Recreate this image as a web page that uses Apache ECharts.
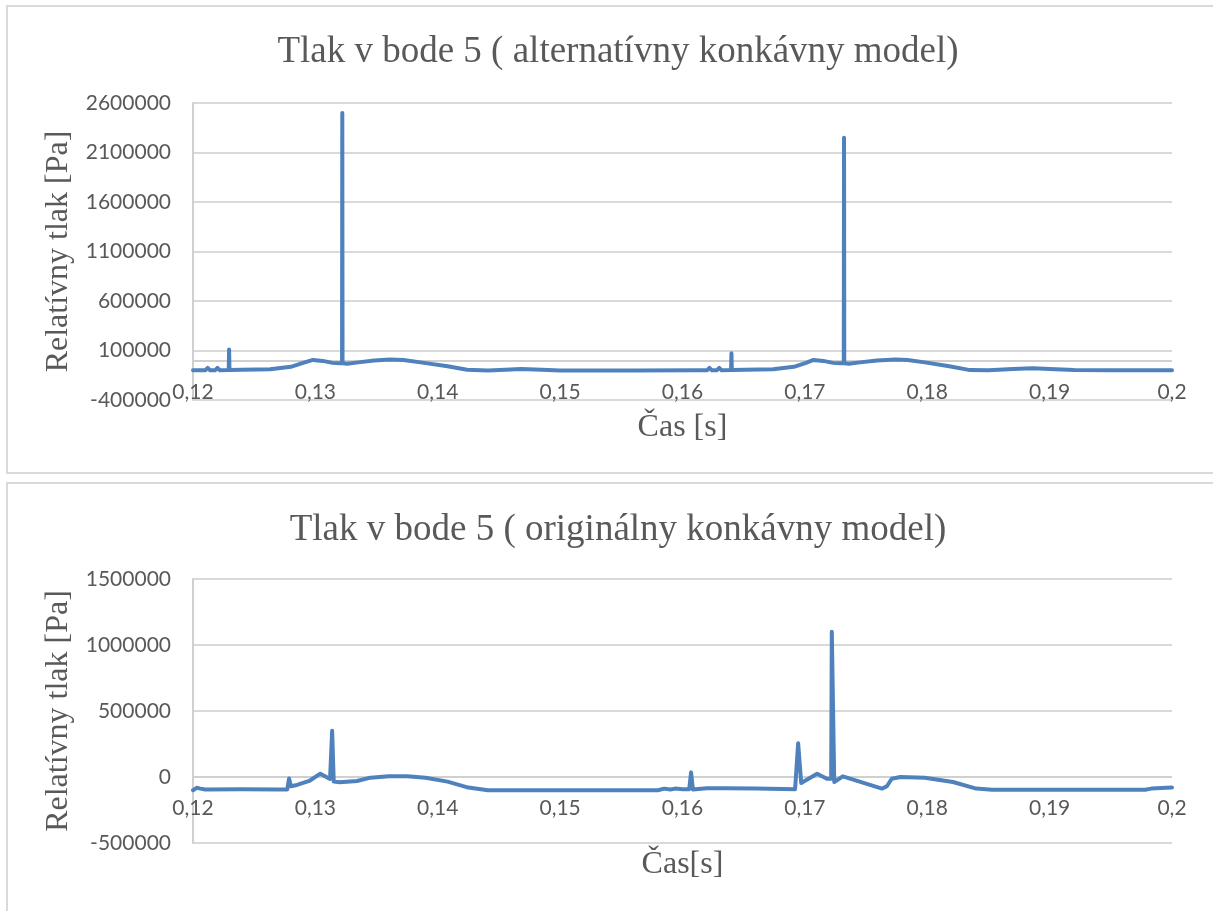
<!DOCTYPE html>
<html>
<head>
<meta charset="utf-8">
<script src="https://cdn.jsdelivr.net/npm/echarts@6/dist/echarts.min.js"></script>
<style>
  html, body { margin: 0; padding: 0; background: #fff; }
  #chart { width: 1213px; height: 911px; }
</style>
</head>
<body>
<div id="chart"></div>
<script>
// top chart: alternative model
var timeA = [0.1200, 0.1210, 0.1212, 0.1214, 0.1218, 0.1220, 0.1222, 0.12292, 0.12295, 0.12298,
  0.1240, 0.1263, 0.1280, 0.1290, 0.1298, 0.1306, 0.1314, 0.1320, 0.13218, 0.1322, 0.13222,
  0.1326, 0.1335, 0.1348, 0.1361, 0.1372, 0.1386, 0.1408, 0.1424, 0.1441, 0.1455, 0.1468,
  0.1485, 0.1500, 0.1560, 0.1610, 0.1620, 0.1622, 0.1624, 0.1628, 0.1630, 0.1632, 0.16397,
  0.1640, 0.16403, 0.1651, 0.1674, 0.1691, 0.1701, 0.1707, 0.1715, 0.1723, 0.1729, 0.17318,
  0.1732, 0.17322, 0.1736, 0.1745, 0.1759, 0.1774, 0.1784, 0.1798, 0.1818, 0.1835, 0.1850,
  0.1870, 0.1886, 0.1900, 0.1920, 0.1950, 0.2000];
var pressA = [-100000, -100000, -75000, -100000, -100000, -75000, -100000, -98000, 110000, -96000,
  -95000, -90000, -65000, -25000, 5000, -5000, -25000, -28000, -28000, 2500000, -30000,
  -33000, -20000, 0, 8000, 3000, -20000, -60000, -95000, -102000, -95000, -88000,
  -95000, -102000, -102000, -100000, -100000, -75000, -100000, -100000, -75000, -100000, -98000,
  73000, -96000, -95000, -90000, -65000, -25000, 5000, -5000, -25000, -28000, -28000,
  2250000, -30000, -33000, -20000, 0, 8000, 3000, -20000, -60000, -98000, -100000,
  -88000, -80000, -88000, -98000, -100000, -100000];

// bottom chart: original model
var timeB = [0.1200, 0.1203, 0.1204, 0.1206, 0.1210, 0.1240, 0.1270, 0.1277, 0.12785, 0.1280,
  0.1285, 0.1295, 0.1304, 0.1312, 0.13132, 0.13137, 0.1315, 0.1320, 0.1334, 0.1345, 0.1360,
  0.1375, 0.1390, 0.1408, 0.1425, 0.1441, 0.1500, 0.1580, 0.1585, 0.1590, 0.1594, 0.1600,
  0.16055, 0.1607, 0.16085, 0.1620, 0.1635, 0.1660, 0.1692, 0.16945, 0.1697, 0.1710, 0.1718,
  0.17215, 0.1722, 0.1724, 0.1731, 0.1763, 0.1767, 0.1771, 0.1778, 0.1798, 0.1821, 0.1840,
  0.1853, 0.1978, 0.1983, 0.2000];
var pressB = [-100000, -82000, -70000, -88000, -95000, -92000, -95000, -95000, -12000, -70000,
  -60000, -30000, 25000, -15000, -15000, 350000, -35000, -40000, -30000, -5000, 5000,
  5000, -5000, -35000, -80000, -100000, -100000, -100000, -88000, -95000, -88000, -92000,
  -92000, 35000, -95000, -85000, -85000, -88000, -92000, 255000, -45000, 25000, -13000,
  -13000, 1100000, -38000, 5000, -88000, -70000, -13000, 0, -5000, -38000, -88000,
  -96000, -96000, -88000, -80000];

var titleA = 'Tlak v bode 5 ( alternatívny konkávny model)';
var titleB = 'Tlak v bode 5 ( originálny konkávny model)';

var pairs = function(xs, ys){
    return xs.map(function(x, i){ return [x, ys[i]]; });
};

var grey = '#595959';
var serif = '"Liberation Serif", "Times New Roman", serif';
var sans = 'Lato, "Open Sans", sans-serif';

// labels sit just above the bottom edge of the plot, like in the Excel original
var xAxisFor = function(gridIndex, name, gap, labelMargin){
    return {
        gridIndex: gridIndex,
        type: 'value',
        min: 0.12, max: 0.2, interval: 0.01,
        name: name,
        nameLocation: 'middle',
        nameGap: gap,
        nameTextStyle: {fontFamily: serif, fontSize: 32, color: grey},
        axisLine: {show: false, onZero: false},
        axisTick: {show: false},
        splitLine: {show: false},
        axisLabel: {
            margin: labelMargin, fontFamily: sans, fontSize: 21, color: grey,
            formatter: function(v){ return String(+v.toFixed(2)).replace('.', ','); }
        }
    };
};

var yAxisFor = function(gridIndex, min, max){
    return {
        gridIndex: gridIndex,
        type: 'value',
        min: min, max: max, interval: 500000,
        name: 'Relatívny tlak [Pa]',
        nameLocation: 'middle',
        nameGap: 114,
        nameTextStyle: {fontFamily: serif, fontSize: 32, color: grey},
        axisLine: {show: true, onZero: false, lineStyle: {color: '#d0d0d0', width: 2}},
        axisTick: {show: false},
        splitLine: {lineStyle: {color: '#d9d9d9', width: 2}},
        axisLabel: {margin: 22, fontFamily: sans, fontSize: 21, color: grey,
            formatter: function(v){ return String(v); }}
    };
};

// horizontal axis line at zero pressure, kept under the data line
var zeroLine = {
    silent: true,
    z: 1,
    symbol: 'none',
    label: {show: false},
    lineStyle: {color: '#d0d0d0', type: 'solid', width: 2},
    data: [{yAxis: 0}]
};

var option = {
    animation: false,
    backgroundColor: '#fff',
    graphic: [
        {type: 'rect', shape: {x: 7, y: 6, width: 1240, height: 467}, style: {fill: 'none', stroke: '#d9d9d9', lineWidth: 2}},
        {type: 'rect', shape: {x: 7, y: 483, width: 1240, height: 500}, style: {fill: 'none', stroke: '#d9d9d9', lineWidth: 2}}
    ],
    title: [
        {text: titleA, left: 613, top: 29, textAlign: 'center',
            textStyle: {fontFamily: serif, fontSize: 37, fontWeight: 'normal', color: grey}},
        {text: titleB, left: 613, top: 507, textAlign: 'center',
            textStyle: {fontFamily: serif, fontSize: 37, fontWeight: 'normal', color: grey}}
    ],
    grid: [
        {left: 193, top: 103, width: 979, height: 297, containLabel: false, outerBoundsMode: 'none'},
        {left: 193, top: 579, width: 979, height: 264, containLabel: false, outerBoundsMode: 'none'}
    ],
    xAxis: [xAxisFor(0, 'Čas [s]', 12, -18), xAxisFor(1, 'Čas[s]', 6, -45)],
    yAxis: [yAxisFor(0, -400000, 2600000), yAxisFor(1, -500000, 1500000)],
    series: [
        {
            type: 'line', xAxisIndex: 0, yAxisIndex: 0,
            data: pairs(timeA, pressA),
            showSymbol: false,
            lineStyle: {color: '#4f81bd', width: 4, join: 'round', cap: 'round'},
            markLine: zeroLine,
            z: 3
        },
        {
            type: 'line', xAxisIndex: 1, yAxisIndex: 1,
            data: pairs(timeB, pressB),
            showSymbol: false,
            lineStyle: {color: '#4f81bd', width: 4, join: 'round', cap: 'round'},
            markLine: zeroLine,
            z: 3
        }
    ]
};

var myChart = echarts.init(document.getElementById('chart'));
myChart.setOption(option);
</script>
</body>
</html>
